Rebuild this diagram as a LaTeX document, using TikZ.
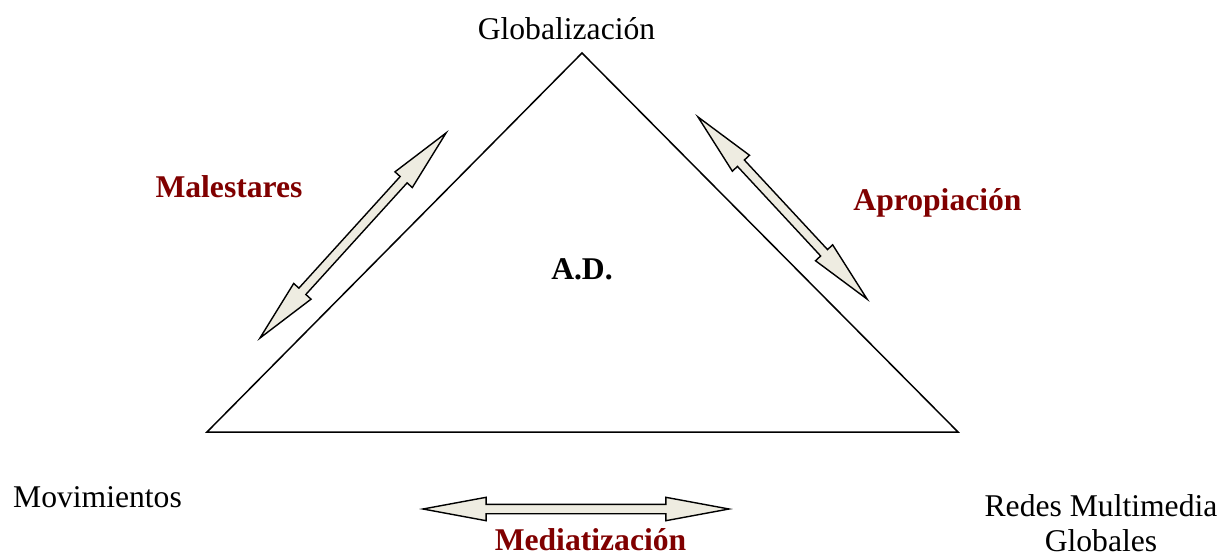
\documentclass[tikz,border=0pt]{standalone}
\usepackage{fontspec}
\setmainfont{Liberation Serif}
\usepackage{tikz}
\usetikzlibrary{arrows.meta,shapes.arrows}

\definecolor{labelRed}{RGB}{128,0,0}
\definecolor{arrowFill}{RGB}{238,236,225}

\tikzset{
  plainText/.style={inner sep=0, anchor=base, font=\fontsize{18}{19.8}\selectfont},
  forceText/.style={plainText, text=labelRed, font=\fontsize{18}{19.8}\selectfont\bfseries},
  blockArrow/.style={double arrow, draw=black, fill=arrowFill, line width=0.8pt,
    inner xsep=0, inner ysep=0.08cm, minimum width=0.44cm,
    double arrow head extend=0.14cm, double arrow tip angle=21, sloped}
}

\begin{document}
\begin{tikzpicture}
                \useasboundingbox (0,0) rectangle (24.44,11.1);

                \coordinate (apex) at (11.64,10.04);
                \coordinate (leftCorner) at (4.14,2.46);
                \coordinate (rightCorner) at (19.16,2.46);
                \draw[line width=0.85pt, line join=miter] (apex) -- (leftCorner) -- (rightCorner) -- cycle;

                \node[plainText] (globalizacion) at (11.33,10.32) {Globalización};
                \node[plainText] (movimientos) at (1.95,0.96) {Movimientos};
                \node[plainText, anchor=north, align=center] (redes) at (22.02,1.21) {Redes Multimedia\\Globales};
                \node[forceText, text=black] (ad) at (11.64,5.52) {A.D.};

                \node[forceText] (malestares) at (4.58,7.16) {Malestares};
                \node[forceText] (apropiacion) at (18.75,6.90) {Apropiación};
                \node[forceText] (mediatizacion) at (11.81,0.10) {Mediatización};

                \coordinate (malLow) at (5.20,4.34);
                \coordinate (malHigh) at (8.92,8.44);
                \coordinate (aproHigh) at (13.96,8.76);
                \coordinate (aproLow) at (17.34,5.12);
                \coordinate (mediaLeft) at (8.46,0.92);
                \coordinate (mediaRight) at (14.58,0.92);

                \path (malLow) -- node[blockArrow, minimum height=5.54cm] (malArrow) {} (malHigh);
                \path (aproHigh) -- node[blockArrow, minimum height=4.97cm] (aproArrow) {} (aproLow);
                \path (mediaLeft) -- node[blockArrow, minimum height=6.12cm] (mediaArrow) {} (mediaRight);
\end{tikzpicture}
\end{document}
